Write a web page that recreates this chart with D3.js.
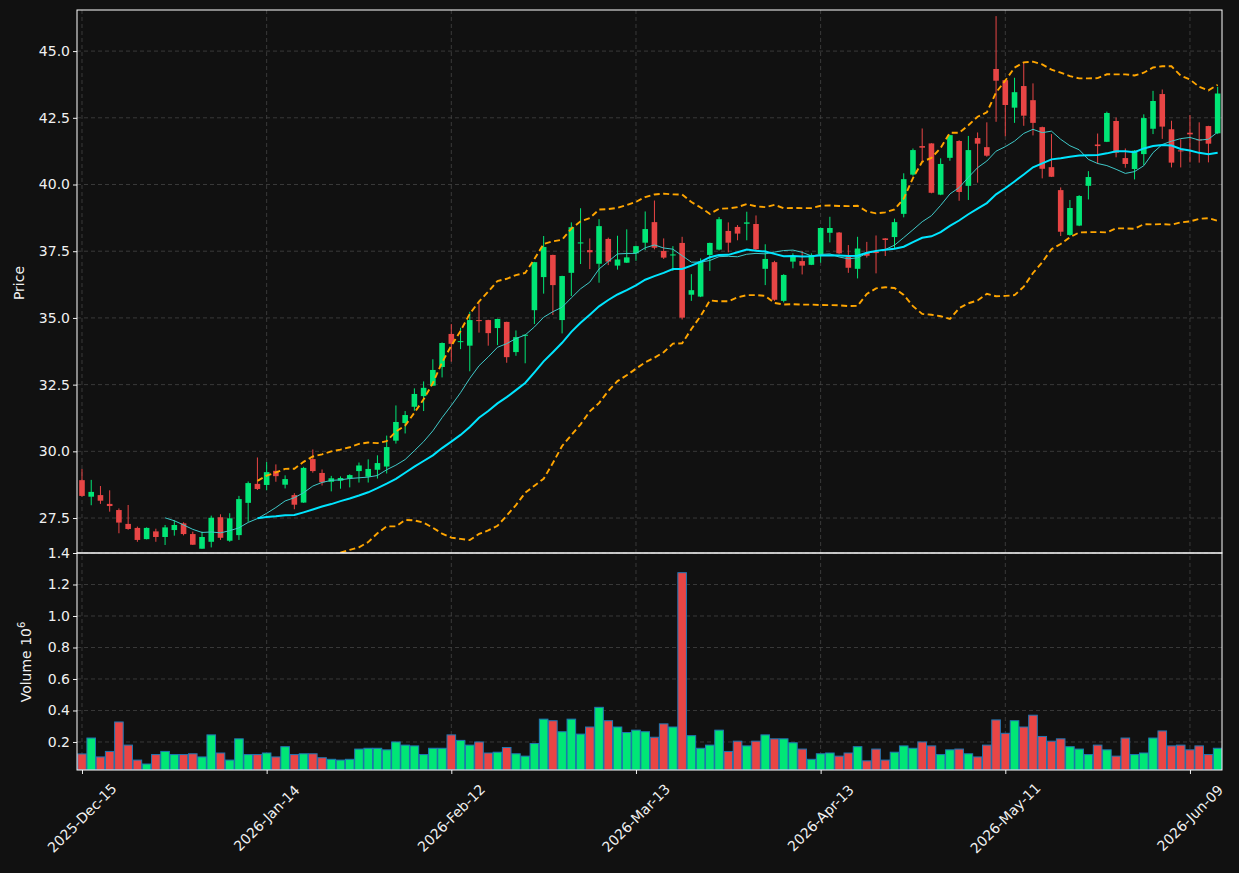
<!DOCTYPE html>
<html>
<head>
<meta charset="utf-8">
<script src="https://cdn.jsdelivr.net/npm/d3@7"></script>
<style>
  body { margin: 0; background: #111111; }
  svg { display: block; font-family: "DejaVu Sans", sans-serif; }
</style>
</head>
<body>
<svg id="chart" width="1239" height="873"></svg>
<script>
const opens = [28.92,28.30,28.36,28.03,27.80,27.28,27.13,26.71,27.00,26.79,
  27.05,27.30,26.90,26.35,26.61,27.53,26.65,26.86,28.07,28.78,
  28.74,29.27,28.75,28.36,28.08,29.71,29.19,28.86,28.90,28.98,
  29.26,29.05,29.31,29.43,30.40,31.06,31.67,32.07,32.46,33.16,
  34.40,34.10,33.96,34.92,34.92,34.62,34.85,33.72,34.33,35.29,
  36.53,37.36,34.92,36.69,37.79,37.54,37.03,37.96,36.96,37.07,
  37.42,37.82,38.59,37.51,37.34,37.81,35.87,35.80,37.36,37.56,
  38.26,38.41,38.53,38.52,36.84,37.09,35.64,37.11,37.13,36.99,
  37.39,38.19,38.20,37.29,36.84,37.42,37.48,37.98,38.03,38.90,
  40.37,41.44,41.54,39.62,41.00,41.63,39.95,41.74,41.40,44.33,
  43.91,42.88,43.69,43.16,42.15,40.65,39.79,38.11,38.46,39.95,
  41.50,41.60,42.38,40.99,40.58,41.14,42.09,43.39,42.07,41.28,
  41.94,41.69,42.19,41.92];
const highs = [29.34,28.93,28.70,28.54,27.86,27.99,27.18,27.15,27.10,27.24,
  27.42,27.34,26.99,26.99,27.59,27.64,27.68,28.33,28.87,29.77,
  29.60,29.51,29.10,28.43,29.42,30.07,29.32,29.08,29.06,29.14,
  29.58,29.70,29.85,30.59,31.72,31.51,32.36,32.62,33.45,34.08,
  34.77,34.63,35.23,35.55,34.93,34.97,34.86,34.53,34.38,37.10,
  38.07,37.37,36.58,38.58,39.11,37.98,38.70,38.01,38.08,38.32,
  37.71,38.99,39.40,37.98,37.69,38.04,36.64,37.23,37.82,38.78,
  38.58,38.48,38.98,38.84,37.76,37.14,36.64,37.42,37.51,37.42,
  38.38,38.79,38.22,37.73,38.04,37.85,38.09,37.99,38.72,40.42,
  41.35,42.10,41.55,40.98,41.86,41.66,41.82,41.95,42.33,46.31,
  43.93,44.00,44.56,43.79,42.17,41.89,39.89,39.42,39.60,40.50,
  41.91,42.73,42.51,41.35,41.29,42.63,43.51,43.56,42.39,41.70,
  42.60,42.33,42.20,43.66];
const lows = [28.30,27.98,28.03,27.74,26.93,27.06,26.61,26.70,26.61,26.49,
  26.84,26.85,26.49,26.35,26.40,26.68,26.61,26.68,27.36,28.55,
  28.54,28.86,28.61,27.83,28.07,29.20,28.72,28.50,28.60,28.65,
  28.83,28.83,28.98,29.17,30.29,30.67,31.52,31.51,32.45,32.77,
  33.36,33.83,33.00,34.45,33.96,33.98,33.32,33.58,33.30,34.77,
  35.91,35.11,34.42,35.82,37.02,36.83,36.32,36.98,36.81,37.06,
  37.14,37.54,37.57,37.21,36.76,34.94,35.64,35.78,36.76,37.53,
  37.46,37.91,37.91,37.54,36.23,35.64,35.58,36.86,36.63,36.98,
  37.07,37.83,37.39,36.69,36.48,37.26,36.67,37.32,37.61,38.77,
  40.33,40.85,39.67,39.60,40.89,39.39,39.42,40.07,41.04,42.35,
  41.81,42.31,42.20,41.84,40.23,40.28,38.07,38.08,38.44,39.44,
  40.77,41.59,41.02,40.63,40.19,40.73,41.89,41.71,40.64,40.64,
  40.83,40.82,40.83,41.89];
const closes = [28.33,28.48,28.15,27.95,27.33,27.09,26.68,27.13,26.79,27.15,
  27.24,26.90,26.50,26.79,27.51,26.76,27.49,28.21,28.81,28.59,
  29.22,29.07,28.96,28.00,29.38,29.26,28.84,28.99,29.00,29.11,
  29.47,29.34,29.56,30.16,31.10,31.36,32.15,32.38,33.05,34.06,
  34.03,34.13,34.92,34.88,34.43,34.96,33.53,34.28,34.37,37.09,
  37.66,36.23,36.57,38.40,37.83,37.46,38.44,37.11,37.19,37.27,
  37.69,38.33,37.63,37.26,37.38,35.01,36.04,37.11,37.81,38.70,
  37.82,38.16,38.58,37.57,37.21,35.68,36.61,37.29,36.96,37.36,
  38.37,38.37,37.42,36.88,37.60,37.33,37.43,37.92,38.59,40.20,
  41.29,41.38,39.69,40.77,41.85,39.72,41.29,41.53,41.08,43.89,
  42.98,43.46,42.58,42.31,40.59,40.29,38.23,39.12,39.57,40.28,
  41.44,42.68,41.19,40.77,41.27,42.49,43.13,42.17,40.82,41.24,
  41.88,41.67,41.53,43.41];
// volume in millions
const volumes = [0.124,0.225,0.105,0.14,0.327,0.18,0.085,0.06,0.12,0.14,
  0.12,0.12,0.125,0.105,0.245,0.13,0.085,0.22,0.12,0.12,
  0.13,0.105,0.17,0.12,0.125,0.125,0.10,0.09,0.085,0.09,
  0.155,0.16,0.16,0.15,0.20,0.18,0.175,0.12,0.16,0.16,
  0.245,0.21,0.18,0.20,0.13,0.135,0.165,0.125,0.11,0.19,
  0.345,0.335,0.265,0.345,0.25,0.295,0.42,0.335,0.295,0.26,
  0.275,0.265,0.23,0.315,0.295,1.275,0.24,0.16,0.18,0.275,
  0.14,0.205,0.175,0.205,0.245,0.22,0.22,0.195,0.155,0.09,
  0.125,0.13,0.11,0.13,0.17,0.08,0.155,0.085,0.135,0.175,
  0.16,0.20,0.175,0.12,0.15,0.155,0.125,0.105,0.18,0.34,
  0.255,0.335,0.295,0.37,0.235,0.205,0.22,0.17,0.155,0.12,
  0.18,0.15,0.11,0.225,0.12,0.13,0.225,0.27,0.175,0.18,
  0.15,0.175,0.12,0.16];

const tickIdx = [0, 20, 40, 60, 80, 100, 120];
const tickLabels = ["2025-Dec-15","2026-Jan-14","2026-Feb-12","2026-Mar-13","2026-Apr-13","2026-May-11","2026-Jun-09"];
const priceTicks = [27.5, 30.0, 32.5, 35.0, 37.5, 40.0, 42.5, 45.0];
const volTicks = [0.2, 0.4, 0.6, 0.8, 1.0, 1.2, 1.4];

const upColor = "#00e676";
const downColor = "#e84545";
const textColor = "#f0f0f0";
const gridColor = "#444444";

const candles = closes.map((c, i) => ({
  i: i, open: opens[i], high: highs[i], low: lows[i], close: c, vol: volumes[i]
}));

function sma(n) {
  return closes.map((c, i) => {
    if (i < n - 1) return null;
    return d3.mean(closes.slice(i - n + 1, i + 1));
  });
}
const ma10 = sma(10);
const ma20 = sma(20);
const bbUp = [], bbLo = [];
closes.forEach((c, i) => {
  if (i < 19) { bbUp.push(null); bbLo.push(null); return; }
  const w = closes.slice(i - 19, i + 1);
  const m = d3.mean(w);
  const sd = Math.sqrt(d3.mean(w, v => (v - m) * (v - m)));
  bbUp.push(m + 2 * sd);
  bbLo.push(m - 2 * sd);
});

const svg = d3.select("#chart");
const left = 77, right = 1222, pTop = 10, pBot = 553, vBot = 770;

const x = d3.scaleLinear().domain([-0.54, 123.47]).range([left, right]);
const yP = d3.scaleLinear().domain([26.19, 46.54]).range([pBot, pTop]);
const yV = d3.scaleLinear().domain([0.022, 1.4]).range([vBot, pBot]);

svg.append("rect").attr("width", 1239).attr("height", 873).attr("fill", "#111111");

const defs = svg.append("defs");
defs.append("clipPath").attr("id", "clipP").append("rect")
  .attr("x", left).attr("y", pTop).attr("width", right - left).attr("height", pBot - pTop);
defs.append("clipPath").attr("id", "clipV").append("rect")
  .attr("x", left).attr("y", pBot).attr("width", right - left).attr("height", vBot - pBot);

// grid
const grid = svg.append("g").attr("stroke", gridColor).attr("stroke-width", 0.8).attr("stroke-dasharray", "4,3");
priceTicks.forEach(t => grid.append("line").attr("x1", left).attr("x2", right).attr("y1", yP(t)).attr("y2", yP(t)));
volTicks.forEach(t => grid.append("line").attr("x1", left).attr("x2", right).attr("y1", yV(t)).attr("y2", yV(t)));
tickIdx.forEach(t => grid.append("line").attr("x1", x(t)).attr("x2", x(t)).attr("y1", pTop).attr("y2", vBot));

// candles
const gp = svg.append("g").attr("clip-path", "url(#clipP)");
const bodyW = 5.6;
gp.selectAll("line.wick").data(candles).join("line")
  .attr("x1", d => x(d.i)).attr("x2", d => x(d.i))
  .attr("y1", d => yP(d.high)).attr("y2", d => yP(d.low))
  .attr("stroke", d => d.close >= d.open ? upColor : downColor)
  .attr("stroke-width", 1);
gp.selectAll("rect.body").data(candles).join("rect")
  .attr("x", d => x(d.i) - bodyW / 2)
  .attr("y", d => yP(Math.max(d.open, d.close)))
  .attr("width", bodyW)
  .attr("height", d => Math.max(1, Math.abs(yP(d.open) - yP(d.close))))
  .attr("fill", d => d.close >= d.open ? upColor : downColor);

// moving averages and bands
function path(arr) {
  return d3.line().defined(v => v !== null).x((v, i) => x(i)).y(v => yP(v))(arr);
}
gp.append("path").attr("d", path(ma10)).attr("fill", "none").attr("stroke", "#3fc8c8").attr("stroke-width", 1);
gp.append("path").attr("d", path(ma20)).attr("fill", "none").attr("stroke", "#00e5ff").attr("stroke-width", 2);
[bbUp, bbLo].forEach(b => gp.append("path").attr("d", path(b)).attr("fill", "none")
  .attr("stroke", "#ffa500").attr("stroke-width", 1.9).attr("stroke-dasharray", "6,3.5"));

// volume
const gv = svg.append("g").attr("clip-path", "url(#clipV)");
gv.selectAll("rect").data(candles).join("rect")
  .attr("x", d => x(d.i) - 4.3)
  .attr("y", d => yV(d.vol))
  .attr("width", 8.6)
  .attr("height", d => vBot - yV(d.vol))
  .attr("fill", d => d.close >= d.open ? upColor : downColor)
  .attr("stroke", "#1f77b4").attr("stroke-width", 1);

// axes
const yAxisP = svg.append("g").attr("transform", `translate(${left},0)`)
  .call(d3.axisLeft(yP).tickValues(priceTicks).tickFormat(d3.format(".1f")).tickSize(4));
const yAxisV = svg.append("g").attr("transform", `translate(${left},0)`)
  .call(d3.axisLeft(yV).tickValues(volTicks).tickFormat(d3.format(".1f")).tickSize(4));
const xAxis = svg.append("g").attr("transform", `translate(0,${vBot})`)
  .call(d3.axisBottom(x).tickValues(tickIdx).tickFormat(() => "").tickSize(4));
[yAxisP, yAxisV, xAxis].forEach(a => {
  a.select(".domain").remove();
  a.selectAll("line").attr("stroke", textColor);
  a.selectAll("text").attr("fill", textColor).attr("font-size", 14)
    .attr("font-family", "DejaVu Sans, sans-serif");
});

svg.append("g").selectAll("text").data(tickIdx).join("text")
  .attr("transform", (d) => `translate(${x(d)},${vBot + 48}) rotate(-45)`)
  .attr("text-anchor", "middle").attr("dominant-baseline", "central")
  .attr("fill", textColor).attr("font-size", 14)
  .text((d, i) => tickLabels[i]);

// frames
svg.append("rect").attr("x", left).attr("y", pTop).attr("width", right - left).attr("height", pBot - pTop)
  .attr("fill", "none").attr("stroke", "#ffffff").attr("stroke-width", 1);
svg.append("rect").attr("x", left).attr("y", pBot).attr("width", right - left).attr("height", vBot - pBot)
  .attr("fill", "none").attr("stroke", "#ffffff").attr("stroke-width", 1);

// axis labels
svg.append("text").attr("transform", "translate(24,283) rotate(-90)")
  .attr("text-anchor", "middle").attr("fill", textColor).attr("font-size", 14).text("Price");
const vl = svg.append("text").attr("transform", "translate(31,662) rotate(-90)")
  .attr("text-anchor", "middle").attr("fill", textColor).attr("font-size", 14);
vl.append("tspan").text("Volume  10");
vl.append("tspan").attr("dy", -6).attr("font-size", 10).text("6");
</script>
</body>
</html>
